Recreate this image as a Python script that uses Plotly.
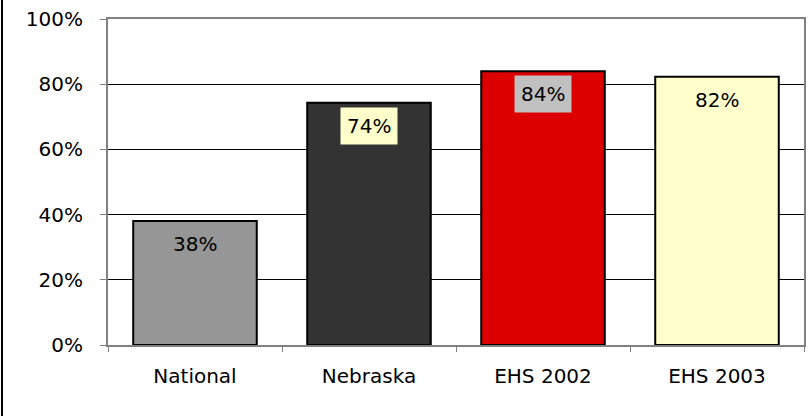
import plotly.graph_objects as go

categories = ["National", "Nebraska", "EHS 2002", "EHS 2003"]
values = [0.38, 0.743, 0.84, 0.823]
bar_colors = ["#969696", "#333333", "#DD0000", "#FFFFCC"]
label_bg = ["#969696", "#FFFFCC", "#C0C0C0", "#FFFFCC"]
y_ticks = [0, 0.2, 0.4, 0.6, 0.8, 1.0]

W, H = 812, 416
ML, MR, MT, MB = 108, 8, 19, 71
FONT = "DejaVu Sans"
FS = 20

fig = go.Figure(go.Bar(
    x=categories, y=values,
    marker=dict(color=bar_colors, line=dict(color="black", width=2)),
    width=0.71, hoverinfo="skip",
))

for c, v, bg in zip(categories, values, label_bg):
    fig.add_annotation(
        x=c, y=v, text=f"{round(v*100)}%", showarrow=False,
        yanchor="top", yshift=-4, bgcolor=bg, borderpad=6,
        font=dict(family=FONT, size=FS, color="black"),
    )

pw = W - ML - MR
ph = H - MT - MB
fig.add_shape(type="line", xref="paper", yref="paper",
              x0=(2 - ML) / pw, x1=(2 - ML) / pw, y0=-MB / ph, y1=1 + MT / ph,
              line=dict(color="black", width=2))

fig.update_layout(
    width=W, height=H,
    margin=dict(l=ML, r=MR, t=MT, b=MB, autoexpand=False),
    paper_bgcolor="white", plot_bgcolor="white",
    showlegend=False,
    font=dict(family=FONT, size=FS, color="black"),
)
fig.update_yaxes(
    range=[0, 1], tickvals=y_ticks, tickformat=".0%",
    showgrid=True, gridcolor="black", gridwidth=1, zeroline=False,
    showline=True, linecolor="#808080", linewidth=2, mirror=True,
    ticks="outside", ticklen=6, tickcolor="#808080", ticklabelstandoff=13,
    tickfont=dict(family=FONT, size=FS), automargin=False,
)
fig.update_xaxes(
    showline=True, linecolor="#808080", linewidth=2, mirror=True,
    ticks="outside", ticklen=5, tickcolor="#808080", tickson="boundaries",
    ticklabelstandoff=12, tickfont=dict(family=FONT, size=FS), showgrid=False,
    automargin=False,
)

fig.write_html("out.html", config={"displayModeBar": False},
               post_script="document.body.style.margin='0';")
